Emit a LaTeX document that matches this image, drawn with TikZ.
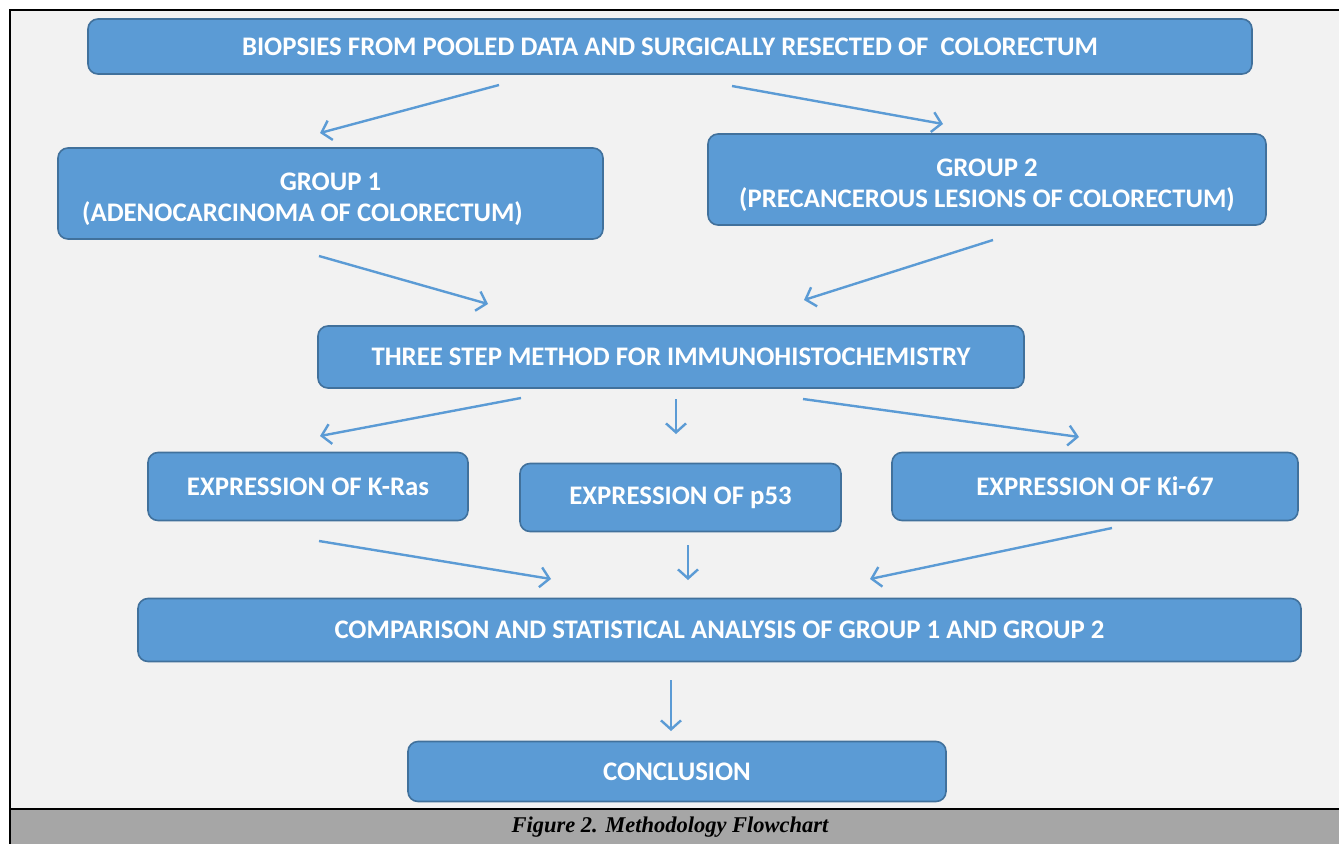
\documentclass[tikz,border=0pt]{standalone}
\usepackage{fontspec}
\setmainfont{Carlito}
\newfontfamily\capfont{Liberation Serif}
\usetikzlibrary{arrows.meta}

\definecolor{boxblue}{HTML}{5B9BD5}
\definecolor{boxedge}{HTML}{41719C}
\definecolor{pagegray}{HTML}{F2F2F2}
\definecolor{bargray}{HTML}{A6A6A6}

\tikzset{
  stepbox/.style={draw=boxedge, line width=1.6pt, fill=boxblue, rounded corners=10pt,
    text=white, font=\bfseries\fontsize{26.8}{31}\selectfont, align=center, inner sep=0pt},
  boxtext/.style={text=white, font=\bfseries\fontsize{26.8}{31}\selectfont, align=center,
    inner sep=0pt, yshift=-5.5pt},
  flow/.style={draw=boxblue, line width=2.4pt, -{Straight Barb[length=9pt,width=20pt]}}
}

\begin{document}
\begin{tikzpicture}[x=1pt,y=1pt]
        \useasboundingbox (0,0) rectangle (1339,-844);
        % page and caption bar
        \fill[white] (0,0) rectangle (1339,-844);
        \fill[pagegray] (10,-10) rectangle (1339,-809);
        \fill[bargray] (10,-809) rectangle (1339,-844);
        \draw[line width=2.5pt] (1339,-10) -- (10,-10) -- (10,-844);
        \draw[line width=2.5pt] (10,-809) -- (1339,-809);

        \node[stepbox, minimum width=1164pt, minimum height=55pt] (biopsy) at (670,-46.5)
            {BIOPSIES FROM POOLED DATA AND SURGICALLY RESECTED OF\ \ COLORECTUM};
        \node[stepbox, minimum width=545pt, minimum height=91pt,
              label={[boxtext]center:GROUP 1\\(ADENOCARCINOMA OF COLORECTUM)\hspace*{56pt}}]
              (groupA) at (330.5,-193.5) {};
        \node[stepbox, minimum width=558pt, minimum height=91pt,
              label={[boxtext]center:GROUP 2\\(PRECANCEROUS LESIONS OF COLORECTUM)}]
              (groupB) at (987,-179.5) {};
        \node[stepbox, minimum width=706pt, minimum height=62pt] (ihc) at (671,-357)
            {THREE STEP METHOD FOR IMMUNOHISTOCHEMISTRY};
        \node[stepbox, minimum width=320pt, minimum height=68pt] (kras) at (308,-486.5)
            {EXPRESSION OF K-Ras};
        \node[stepbox, minimum width=321pt, minimum height=68pt] (pfs) at (680.5,-497.5)
            {EXPRESSION OF p53};
        \node[stepbox, minimum width=406pt, minimum height=68pt] (ki) at (1095,-486.5)
            {EXPRESSION OF Ki-67};
        \node[stepbox, minimum width=1163pt, minimum height=63pt] (stats) at (719.5,-630)
            {COMPARISON AND STATISTICAL ANALYSIS OF GROUP 1 AND GROUP 2};
        \node[stepbox, minimum width=538pt, minimum height=60pt] (concl) at (677,-771.5)
            {CONCLUSION};

        \node[font=\capfont\bfseries\itshape\fontsize{22.5}{24}\selectfont] (caption) at (670,-827)
            {Figure 2. Methodology Flowchart};

        % free floating arrows between the boxes
        \coordinate (b1) at (499,-85);   \coordinate (g1) at (320,-133);
        \coordinate (b2) at (732,-86);   \coordinate (g2) at (943,-124);
        \coordinate (g1o) at (319,-256); \coordinate (i1) at (488,-304);
        \coordinate (g2o) at (993,-240); \coordinate (i2) at (804,-300);
        \coordinate (i3) at (521,-398);  \coordinate (k1) at (320,-436);
        \coordinate (i4) at (676,-399);  \coordinate (p1) at (676,-434);
        \coordinate (i5) at (803,-399);  \coordinate (q1) at (1079,-437);
        \coordinate (k2) at (319,-541);  \coordinate (s1) at (551,-579);
        \coordinate (p2) at (688,-545);  \coordinate (s2) at (688,-580);
        \coordinate (q2) at (1112,-528); \coordinate (s3) at (870,-579);
        \coordinate (s4) at (671,-680);  \coordinate (c1) at (671,-731);

        \foreach \from/\to in {b1/g1, b2/g2, g1o/i1, g2o/i2, i3/k1, i4/p1, i5/q1,
                               k2/s1, p2/s2, q2/s3, s4/c1}
            \draw[flow] (\from) -- (\to);
\end{tikzpicture}
\end{document}
